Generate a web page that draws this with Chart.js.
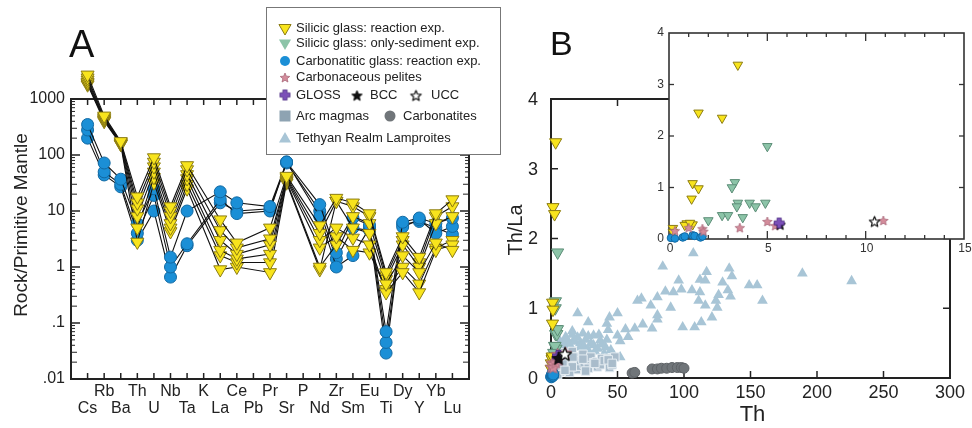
<!DOCTYPE html>
<html><head><meta charset="utf-8">
<script src="https://cdn.jsdelivr.net/npm/chart.js@4.4.1/dist/chart.umd.min.js"></script>
<style>
html,body{margin:0;padding:0;background:#fff;width:972px;height:428px;overflow:hidden;}
canvas{position:absolute;}
#cA{left:0;top:0;z-index:1;}
#cB{left:490px;top:0;z-index:2;}
#cI{left:640px;top:20px;z-index:3;}
</style></head><body>
<canvas id="cA" width="520" height="428"></canvas>
<canvas id="cB" width="482" height="428"></canvas>
<canvas id="cI" width="332" height="250"></canvas>
<script>
// ---------------- DATA: panel A (Rock / Primitive Mantle) ----------------
const elements = ['Cs','Rb','Ba','Th','U','Nb','Ta','K','La','Ce','Pb','Pr','Sr','P','Nd','Zr','Sm','Eu','Ti','Dy','Y','Yb','Lu'];
const yTickValsA = [0.01, 0.1, 1, 10, 100, 1000];
const yTickLabsA = ['.01', '.1', '1', '10', '100', '1000'];
// Silicic glass: reaction exp.
const silA1 = [2700,500,175,18,90,12,65,null,7,2.7,null,5,42,null,5.5,17,14,9,0.8,3.5,1.5,9,16];
const silA2 = [2400,470,170,14,75,10,55,null,4.5,2.2,null,3.2,40,null,4,15,5,4,0.5,1.6,0.8,2.7,2];
const silA3 = [2200,450,165,11,62,8,45,null,3,1.7,null,2.5,38,null,3,5,3.3,2.5,0.35,0.8,0.35,2.0,2.5];
const silA4 = [2000,430,160,8,50,6,38,null,2,1.4,null,1.7,36,null,2.2,3.5,2,1.8,0.4,1.0,0.5,2.2,3];
const silA5 = [1900,420,158,5,40,5,30,null,1.6,1.2,null,1.2,34,null,1.0,2.5,8,6,0.6,2.5,1.0,6,8];
const silA6 = [1800,400,155,2.8,32,4.3,25,null,0.9,1.0,null,0.8,32,null,0.9,15,12,8,0.7,3,1.2,8,12];
// Carbonatitic glass: reaction exp.
const carbA1 = [350,72,37,6,25,1.5,10,null,22,14,null,12,75,null,13,1.8,7.5,5.6,0.07,6.3,7.5,6,7.5];
const carbA2 = [280,50,30,4,19,1.0,2.6,null,16,9,null,10,75,null,8,1.0,1.6,5,0.045,5.2,7,4,5.3];
const carbA3 = [200,44,27,3,10,0.66,2.4,null,14,10,null,11,72,null,10,1.4,5,4.5,0.029,5.8,6.5,5,3.8];

// ---------------- DATA: panel B (Th/La vs Th) ----------------
const xTicksB = [0,50,100,150,200,250,300];
const yTicksB = [0,1,2,3,4];
const xTicksInset = [0,5,10,15];
const yTicksInset = [0,1,2,3,4];
const silRxTh   = [3.5,1.5,2.7,1.2,1.5,1.15,0.9,1.2,0.2,0.2,0.8,1.07];
const silRxThLa = [3.38,2.45,2.35,1.08,0.98,0.78,0.3,0.28,0.21,0.13,0.27,0.31];
const silSedTh   = [5.0,3.35,3.2,3.5,3.45,4.1,4.4,4.9,3.75,2.7,3.0,2.0];
const silSedThLa = [1.8,1.1,1.0,0.7,0.63,0.7,0.63,0.7,0.42,0.46,0.46,0.36];
const carbGlTh   = [0.1,0.3,0.7,0.8,1.2,1.3,1.6,1.7];
const carbGlThLa = [0.02,0.01,0.03,0.05,0.07,0.06,0.03,0.05];
const pelTh   = [0.3,1.0,1.7,1.75,3.6,5.0,5.4,10.9];
const pelThLa = [0.17,0.23,0.21,0.16,0.23,0.35,0.27,0.37];
const glossTh = [5.6], glossThLa = [0.31];
const bccTh = [5.65], bccThLa = [0.29];
const uccTh = [10.45], uccThLa = [0.35];
const lampTh = [107,84,117,134,136,189,226,96,112,116,129,149,155,98,86,92,106,112,133,126,135,80,65,68,124,111,159,75,90,116,125,20,50,44,28,80,80,121,113,69,63,56,76,99,108,42,43,16,24,50,58,11,17,32,37,52,32,41,52,9,22,7,8,10,12,14,15,18,20,22,25,26,28,30,33,35,38,40,45,12,16,24,28,36,42,47];
const lampThLa = [1.79,1.6,1.52,1.57,1.46,1.5,1.39,1.4,1.41,1.4,1.37,1.33,1.33,1.27,1.24,1.23,1.26,1.23,1.26,1.19,1.17,1.16,1.11,1.14,1.11,1.11,1.11,1.04,1.01,1.04,1.01,0.93,0.93,0.87,0.8,0.9,0.84,0.87,0.8,0.77,0.71,0.7,0.71,0.73,0.73,0.78,0.69,0.67,0.64,0.61,0.59,0.59,0.54,0.61,0.54,0.53,0.47,0.44,0.3,0.44,0.44,0.52,0.45,0.5,0.55,0.48,0.4,0.52,0.58,0.5,0.45,0.55,0.4,0.5,0.38,0.42,0.48,0.35,0.4,0.38,0.62,0.36,0.6,0.62,0.55,0.33];
const arcTh = [3,4.5,6,7,8,9,10,11,12,13,15,16,18,19,20,22,24,25,27,28,30,32,34,35,37,38,40,43,44,46,48,5,14,9,26,16.5,24,33,43,46,16,10.5];
const arcThLa = [0.1,0.21,0.3,0.09,0.25,0.36,0.15,0.33,0.16,0.28,0.22,0.38,0.3,0.12,0.17,0.25,0.34,0.2,0.26,0.14,0.3,0.22,0.23,0.16,0.19,0.28,0.25,0.28,0.15,0.19,0.3,0.05,0.08,0.2,0.1,0.3,0.27,0.21,0.26,0.21,0.16,0.11];
const carbTh = [61,63,76,80,83,87,91,95,98,100];
const carbThLa = [0.07,0.08,0.13,0.13,0.14,0.14,0.15,0.15,0.15,0.14];

// ---------------- styling ----------------
const FONT = '"Liberation Sans", Arial, Helvetica, sans-serif';
const C = {
  yel:'#f8e41c', yelE:'#8c7c12',
  grn:'#8cc4a8', grnE:'#5d8e78',
  blu:'#1b8fd6', bluE:'#1169a3',
  pink:'#d48c9b', pinkE:'#a8687a',
  gloss:'#7b4fb8',
  arc:'#a9bccb', arcLeg:'#8ea3b2',
  carb:'#707579',
  lamp:'#a8c5d6'
};

function drawText(ctx, s, x, y, size, align, base, color, rot) {
  ctx.save();
  ctx.font = size + 'px ' + FONT;
  ctx.fillStyle = color || '#222';
  ctx.textAlign = align || 'center';
  ctx.textBaseline = base || 'middle';
  if (rot) { ctx.translate(x, y); ctx.rotate(rot); ctx.fillText(s, 0, 0); }
  else ctx.fillText(s, x, y);
  ctx.restore();
}
function seg(ctx, x1, y1, x2, y2) { ctx.beginPath(); ctx.moveTo(x1, y1); ctx.lineTo(x2, y2); ctx.stroke(); }

function starCanvas(r, fill, stroke, lw) {
  const s = Math.ceil(2 * r + 4);
  const c = document.createElement('canvas'); c.width = s; c.height = s;
  const g = c.getContext('2d');
  g.beginPath();
  for (let i = 0; i < 10; i++) {
    const rr = i % 2 ? r * 0.45 : r;
    const a = -Math.PI / 2 + i * Math.PI / 5;
    g.lineTo(s / 2 + rr * Math.cos(a), s / 2 + 1 + rr * Math.sin(a));
  }
  g.closePath();
  if (fill) { g.fillStyle = fill; g.fill(); }
  g.strokeStyle = stroke; g.lineWidth = lw; g.lineJoin = 'round'; g.stroke();
  return c;
}
function plusCanvas(r, fill, stroke) {
  const s = Math.ceil(2 * r + 3);
  const c = document.createElement('canvas'); c.width = s; c.height = s;
  const g = c.getContext('2d');
  const m = s / 2, w = r * 0.42;
  g.beginPath();
  g.moveTo(m - w, m - r); g.lineTo(m + w, m - r); g.lineTo(m + w, m - w); g.lineTo(m + r, m - w);
  g.lineTo(m + r, m + w); g.lineTo(m + w, m + w); g.lineTo(m + w, m + r); g.lineTo(m - w, m + r);
  g.lineTo(m - w, m + w); g.lineTo(m - r, m + w); g.lineTo(m - r, m - w); g.lineTo(m - w, m - w);
  g.closePath();
  g.fillStyle = fill; g.fill(); g.strokeStyle = stroke; g.lineWidth = 0.8; g.stroke();
  return c;
}
function tri(ctx, x, y, r, down, fill, stroke) {
  ctx.save(); ctx.beginPath();
  let rad = down ? Math.PI : 0;
  for (let i = 0; i < 3; i++) {
    ctx.lineTo(x + Math.sin(rad) * r, y - Math.cos(rad) * r);
    rad += 2 * Math.PI / 3;
  }
  ctx.closePath(); ctx.fillStyle = fill; ctx.fill();
  if (stroke) { ctx.strokeStyle = stroke; ctx.lineWidth = 1; ctx.stroke(); }
  ctx.restore();
}
function circ(ctx, x, y, r, fill, stroke) {
  ctx.save(); ctx.beginPath(); ctx.arc(x, y, r, 0, Math.PI * 2);
  ctx.fillStyle = fill; ctx.fill();
  if (stroke) { ctx.strokeStyle = stroke; ctx.lineWidth = 1; ctx.stroke(); }
  ctx.restore();
}
function zip(xs, ys) { return xs.map((v, i) => ({ x: v, y: ys[i] })); }

const pinkStarS = starCanvas(5, C.pink, C.pinkE, 0.8);
const pinkStarM = starCanvas(6.5, C.pink, C.pinkE, 0.8);
const blackStarS = starCanvas(5.5, '#111', '#000', 0.8);
const blackStarM = starCanvas(7, '#111', '#000', 0.8);
const openStarS = starCanvas(5.5, '#fff', '#111', 1.2);
const openStarM = starCanvas(7, '#fff', '#111', 1.4);
const glossS = plusCanvas(5, C.gloss, '#4a2a80');
const glossM = plusCanvas(6, C.gloss, '#4a2a80');

// ---------------- panel A ----------------
// plot area is extended upward (above the 1000 frame line) so the Cs markers, which sit above the frame, are drawn
const A_TOP = 60, A_BOTTOM = 379, A_PX_PER_DECADE = 56;
const yMaxA = 0.01 * Math.pow(10, (A_BOTTOM - A_TOP) / A_PX_PER_DECADE);

function profileSet(vals, isSil) {
  const data = [];
  vals.forEach((v, i) => { if (v !== null) data.push({ x: i + 1, y: v }); });
  return {
    data, showLine: true, clip: false,
    borderColor: '#111', borderWidth: 1.1,
    pointStyle: isSil ? 'triangle' : 'circle',
    pointRotation: isSil ? 180 : 0,
    pointRadius: isSil ? 7.5 : 6,
    pointBackgroundColor: isSil ? C.yel : C.blu,
    pointBorderColor: isSil ? C.yelE : C.bluE,
    pointBorderWidth: 1
  };
}

const axesA = {
  id: 'axesA',
  beforeDatasetsDraw(chart) {
    const { ctx, chartArea: ca } = chart;
    const x = chart.scales.x, y = chart.scales.y;
    const a = { left: ca.left, right: ca.right, bottom: ca.bottom, top: y.getPixelForValue(1000) };
    ctx.save();
    ctx.strokeStyle = '#222';
    ctx.lineWidth = 1.5;
    elements.forEach((e, i) => {
      const px = x.getPixelForValue(i + 1);
      seg(ctx, px, a.top, px, a.top + 6);
      seg(ctx, px, a.bottom, px, a.bottom - 6);
    });
    ctx.lineWidth = 1;
    for (let d = 0; d < yTickValsA.length - 1; d++) {
      for (let k = 2; k <= 9; k++) {
        const py = y.getPixelForValue(yTickValsA[d] * k);
        const len = k <= 3 ? 6 : 4;
        seg(ctx, a.left, py, a.left + len, py);
        seg(ctx, a.right, py, a.right - len, py);
      }
    }
    ctx.lineWidth = 1.5;
    yTickValsA.forEach((v, i) => {
      const py = y.getPixelForValue(v);
      seg(ctx, a.left, py, a.left + 9, py);
      seg(ctx, a.right, py, a.right - 9, py);
      drawText(ctx, yTickLabsA[i], a.left - 6, py, 16, 'right', 'middle', '#222');
    });
    ctx.lineWidth = 2;
    ctx.strokeRect(a.left, a.top, a.right - a.left, a.bottom - a.top);
    elements.forEach((e, i) => {
      const px = x.getPixelForValue(i + 1);
      drawText(ctx, e, px, i % 2 === 0 ? 409 : 392, 16, 'center', 'middle', '#222');
    });
    drawText(ctx, 'Rock/Primitive Mantle', 22, (a.top + a.bottom) / 2 - 14, 19, 'center', 'middle', '#222', -Math.PI / 2);
    drawText(ctx, 'A', 69, 57, 38, 'left', 'alphabetic', '#111');
    ctx.restore();
  },
  afterDraw(chart) {
    const ctx = chart.ctx;
    ctx.save();
    ctx.fillStyle = '#fff'; ctx.fillRect(266, 7, 234, 147);
    ctx.strokeStyle = '#777'; ctx.lineWidth = 1; ctx.strokeRect(266.5, 7.5, 234, 147);
    const tx = 296, mx = 285, fs = 13, col = '#222';
    tri(ctx, mx, 28, 7, true, C.yel, C.yelE);
    drawText(ctx, 'Silicic glass: reaction exp.', tx, 28, fs, 'left', 'middle', col);
    tri(ctx, mx, 43, 7, true, C.grn, null);
    drawText(ctx, 'Silicic glass: only-sediment exp.', tx, 43, fs, 'left', 'middle', col);
    circ(ctx, mx, 61, 5, C.blu, null);
    drawText(ctx, 'Carbonatitic glass: reaction exp.', tx, 61, fs, 'left', 'middle', col);
    ctx.drawImage(pinkStarS, mx - pinkStarS.width / 2, 77 - pinkStarS.height / 2);
    drawText(ctx, 'Carbonaceous pelites', tx, 77, fs, 'left', 'middle', col);
    ctx.drawImage(glossS, mx - glossS.width / 2, 95 - glossS.height / 2);
    drawText(ctx, 'GLOSS', tx, 95, fs, 'left', 'middle', col);
    ctx.drawImage(blackStarS, 357 - blackStarS.width / 2, 95 - blackStarS.height / 2);
    drawText(ctx, 'BCC', 370, 95, fs, 'left', 'middle', col);
    ctx.drawImage(openStarS, 416 - openStarS.width / 2, 95 - openStarS.height / 2);
    drawText(ctx, 'UCC', 431, 95, fs, 'left', 'middle', col);
    ctx.fillStyle = C.arcLeg; ctx.fillRect(mx - 5.5, 116 - 5.5, 11, 11);
    drawText(ctx, 'Arc magmas', tx, 116, fs, 'left', 'middle', col);
    circ(ctx, 390, 116, 5.5, C.carb, null);
    drawText(ctx, 'Carbonatites', 403, 116, fs, 'left', 'middle', col);
    tri(ctx, mx, 139, 7, false, C.lamp, null);
    drawText(ctx, 'Tethyan Realm Lamproites', tx, 138, fs, 'left', 'middle', col);
    ctx.restore();
  }
};

new Chart(document.getElementById('cA'), {
  type: 'scatter',
  data: { datasets: [
    profileSet(silA1, true), profileSet(silA2, true), profileSet(silA3, true),
    profileSet(silA4, true), profileSet(silA5, true), profileSet(silA6, true),
    profileSet(carbA1, false), profileSet(carbA2, false), profileSet(carbA3, false)
  ] },
  options: {
    responsive: false, animation: false, devicePixelRatio: 1, events: [],
    layout: { padding: { left: 71, top: A_TOP, right: 51, bottom: 428 - A_BOTTOM } },
    plugins: { legend: { display: false }, tooltip: { enabled: false } },
    scales: {
      x: { type: 'linear', min: 0, max: 24, display: false },
      y: { type: 'logarithmic', min: 0.01, max: yMaxA, display: false }
    }
  },
  plugins: [axesA]
});

// ---------------- panel B helpers ----------------
function ptSet(xs, ys, style, r, fill, stroke, extra) {
  return Object.assign({
    data: zip(xs, ys), clip: false, showLine: false,
    pointStyle: style, pointRadius: r,
    pointBackgroundColor: fill, pointBorderColor: stroke, pointBorderWidth: stroke ? 1 : 0
  }, extra || {});
}

const axesB = {
  id: 'axesB',
  beforeDatasetsDraw(chart) {
    const { ctx, chartArea: a } = chart;
    const x = chart.scales.x, y = chart.scales.y;
    ctx.save();
    ctx.strokeStyle = '#222'; ctx.lineWidth = 1.5;
    xTicksB.forEach(v => {
      const px = x.getPixelForValue(v);
      if (v > 0 && v < 300) { seg(ctx, px, a.bottom, px, a.bottom - 7); seg(ctx, px, a.top, px, a.top + 7); }
      drawText(ctx, String(v), px, a.bottom + 15, 18, 'center', 'middle', '#222');
    });
    yTicksB.forEach(v => {
      const py = y.getPixelForValue(v);
      if (v > 0 && v < 4) { seg(ctx, a.left, py, a.left + 7, py); seg(ctx, a.right, py, a.right - 7, py); }
      drawText(ctx, String(v), a.left - 13, py + 1, 18, 'right', 'middle', '#222');
    });
    ctx.lineWidth = 2;
    ctx.strokeRect(a.left, a.top, a.right - a.left, a.bottom - a.top);
    drawText(ctx, 'Th', (a.left + a.right) / 2 + 2, 415, 22, 'center', 'middle', '#222');
    drawText(ctx, 'Th/La', a.left - 35, 230, 20, 'center', 'middle', '#222', -Math.PI / 2);
    drawText(ctx, 'B', a.left - 1, 55, 34, 'left', 'alphabetic', '#111');
    ctx.restore();
  }
};

new Chart(document.getElementById('cB'), {
  type: 'scatter',
  data: { datasets: [
    ptSet(uccTh, uccThLa, openStarM, 7, '#fff', '#111'),
    ptSet(bccTh, bccThLa, blackStarM, 7, '#111', '#000'),
    ptSet(glossTh, glossThLa, glossM, 6, C.gloss, '#4a2a80'),
    ptSet(pelTh, pelThLa, pinkStarM, 6.5, C.pink, C.pinkE),
    ptSet(carbGlTh, carbGlThLa, 'circle', 5.5, C.blu, C.bluE),
    ptSet(silRxTh, silRxThLa, 'triangle', 7, C.yel, C.yelE, { pointRotation: 180 }),
    ptSet(silSedTh, silSedThLa, 'triangle', 7, C.grn, C.grnE, { pointRotation: 180 }),
    ptSet(carbTh, carbThLa, 'circle', 5, C.carb, '#5e6266'),
    ptSet(arcTh, arcThLa, 'rect', 6, C.arc, '#e6edf2'),
    ptSet(lampTh, lampThLa, 'triangle', 6.2, C.lamp, null)
  ] },
  options: {
    responsive: false, animation: false, devicePixelRatio: 1, events: [],
    layout: { padding: { left: 61, top: 99, right: 22, bottom: 50 } },
    plugins: { legend: { display: false }, tooltip: { enabled: false } },
    scales: {
      x: { type: 'linear', min: 0, max: 300, display: false },
      y: { type: 'linear', min: 0, max: 4, display: false }
    }
  },
  plugins: [axesB]
});

// ---------------- inset ----------------
const axesI = {
  id: 'axesI',
  beforeDatasetsDraw(chart) {
    const { ctx, chartArea: a } = chart;
    const x = chart.scales.x, y = chart.scales.y;
    ctx.save();
    ctx.fillStyle = '#fff';
    ctx.fillRect(a.left, a.top, a.right - a.left, a.bottom - a.top);
    ctx.strokeStyle = '#333'; ctx.lineWidth = 1.3;
    for (let v = 1; v < 15; v++) {
      const px = x.getPixelForValue(v);
      const len = (v % 5 === 0) ? 8 : 4;
      seg(ctx, px, a.top, px, a.top + len);
      seg(ctx, px, a.bottom, px, a.bottom - len);
    }
    yTicksInset.forEach(v => {
      const py = y.getPixelForValue(v);
      if (v > 0 && v < 4) { seg(ctx, a.left, py, a.left + 5, py); seg(ctx, a.right, py, a.right - 5, py); }
      drawText(ctx, String(v), a.left - 5, py, 12, 'right', 'middle', '#333');
    });
    xTicksInset.forEach(v => {
      drawText(ctx, String(v), x.getPixelForValue(v) + 1, a.bottom + 10, 12, 'center', 'middle', '#333');
    });
    ctx.lineWidth = 1.6;
    ctx.strokeRect(a.left, a.top, a.right - a.left, a.bottom - a.top);
    ctx.restore();
  }
};

new Chart(document.getElementById('cI'), {
  type: 'scatter',
  data: { datasets: [
    ptSet(glossTh, glossThLa, glossS, 5, C.gloss, '#4a2a80'),
    ptSet(bccTh, bccThLa, blackStarS, 5, '#111', '#000'),
    ptSet(uccTh, uccThLa, openStarS, 5, '#fff', '#111'),
    ptSet(pelTh, pelThLa, pinkStarS, 5, C.pink, C.pinkE),
    ptSet(carbGlTh, carbGlThLa, 'circle', 3.8, C.blu, C.bluE),
    ptSet(silRxTh, silRxThLa, 'triangle', 5.5, C.yel, C.yelE, { pointRotation: 180 }),
    ptSet(silSedTh, silSedThLa, 'triangle', 5.5, C.grn, C.grnE, { pointRotation: 180 })
  ] },
  options: {
    responsive: false, animation: false, devicePixelRatio: 1, events: [],
    layout: { padding: { left: 29, top: 13, right: 8, bottom: 31 } },
    plugins: { legend: { display: false }, tooltip: { enabled: false } },
    scales: {
      x: { type: 'linear', min: 0, max: 15, display: false },
      y: { type: 'linear', min: 0, max: 4, display: false }
    }
  },
  plugins: [axesI]
});
</script>
</body></html>
